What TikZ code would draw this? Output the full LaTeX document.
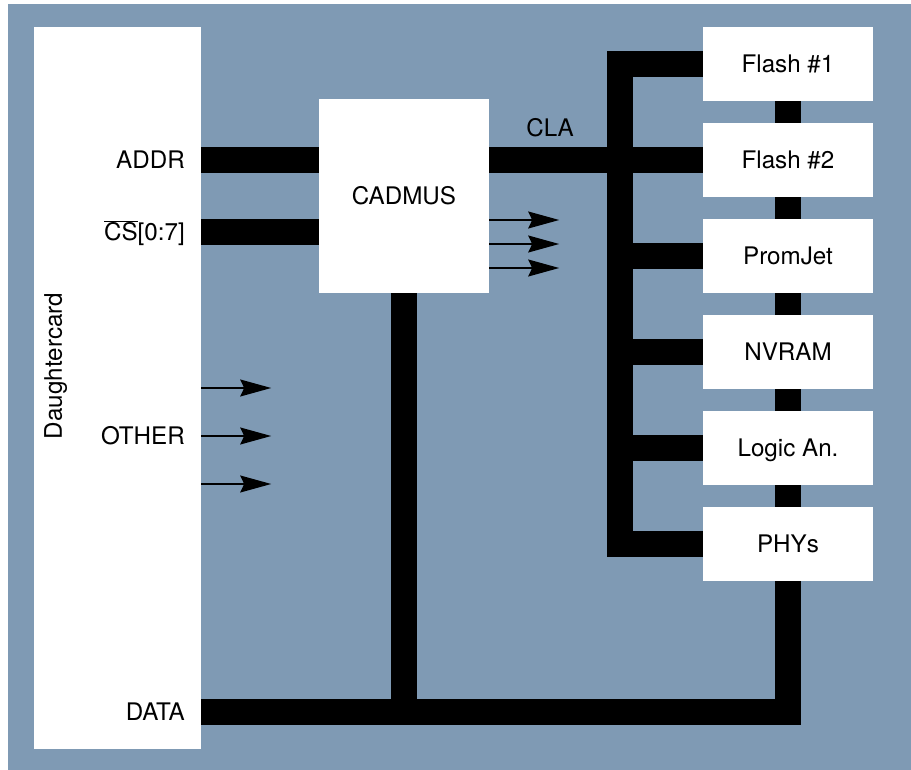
\documentclass[tikz,border=0pt]{standalone}
\usepackage{fontspec}
\setmainfont{TeX Gyre Heros}
\usetikzlibrary{arrows.meta,calc}
\definecolor{panel}{RGB}{127,154,180}

\begin{document}
\begin{tikzpicture}[x=1pt,y=-1pt,
  font=\fontsize{24.2}{28}\selectfont,
  txt/.style={text height=17.6pt, text depth=0pt, inner sep=0pt},
  box/.style={fill=white, inner sep=0pt, text height=17.6pt, text depth=0pt, align=center},
  card/.style={box, minimum width=170pt, minimum height=74pt},
  bus/.style={line width=26pt, line cap=butt},
  sig/.style={line width=1.5pt, -{Stealth[length=31pt,width=17pt,inset=4pt]}}]
\useasboundingbox (0,0) rectangle (911,770);
\fill[panel] (8,4) rectangle (911,770);
% daughtercard on the left
\node[box, minimum width=167pt, minimum height=722pt] (dcard) at (117.5,388) {};
\node[txt, rotate=90] (dlabel) at (53,366) {Daughtercard};
\node[txt, anchor=east] (addr) at (185,160) {ADDR};
\node[txt, anchor=east] (cs) at (185,232) {$\overline{\hbox{CS}}$[0:7]};
\node[txt, anchor=east] (other) at (185,436) {OTHER};
\node[txt, anchor=east] (data) at (185,712) {DATA};
% cadmus
\node[box, minimum width=170pt, minimum height=194pt] (cadmus) at (404,196) {CADMUS};
\node[txt] (cla) at (550,128) {CLA};
% cards on the right
\node[card] (flash1) at (788,64) {Flash \#1};
\node[card] (flash2) at (788,160) {Flash \#2};
\node[card] (promjet) at (788,256) {PromJet};
\node[card] (nvram) at (788,352) {NVRAM};
\node[card] (logic) at (788,448) {Logic An.};
\node[card] (phys) at (788,544) {PHYs};
\coordinate (spine) at (620,0);
% buses
\draw[bus] (addr.east -| dcard.east) -- (addr.east -| cadmus.west);
\draw[bus] (cs.east -| dcard.east) -- (cs.east -| cadmus.west);
\draw[bus] (cadmus.east |- flash2) -- (flash2.west);
\draw[bus] (flash1.west) -| (spine |- phys.west) -- (phys.west);
\foreach \n in {promjet,nvram,logic}
  \draw[bus] (\n.west) -- (\n.west -| spine);
\foreach \a/\b in {flash1/flash2,flash2/promjet,promjet/nvram,nvram/logic,logic/phys}
  \draw[bus] (\a.south) -- (\b.north);
\draw[bus] (phys.south) |- (data.east -| dcard.east);
\draw[bus] (cadmus.south) -- (cadmus.south |- data.east);
% signal arrows
\foreach \dy in {24,48,72}
  \draw[sig] ($(cadmus.east)+(0,\dy)$) -- ++(70,0);
\foreach \dy in {-48,0,48}
  \draw[sig] ($(other.east -| dcard.east)+(0,\dy)$) -- ++(70,0);
\end{tikzpicture}
\end{document}
